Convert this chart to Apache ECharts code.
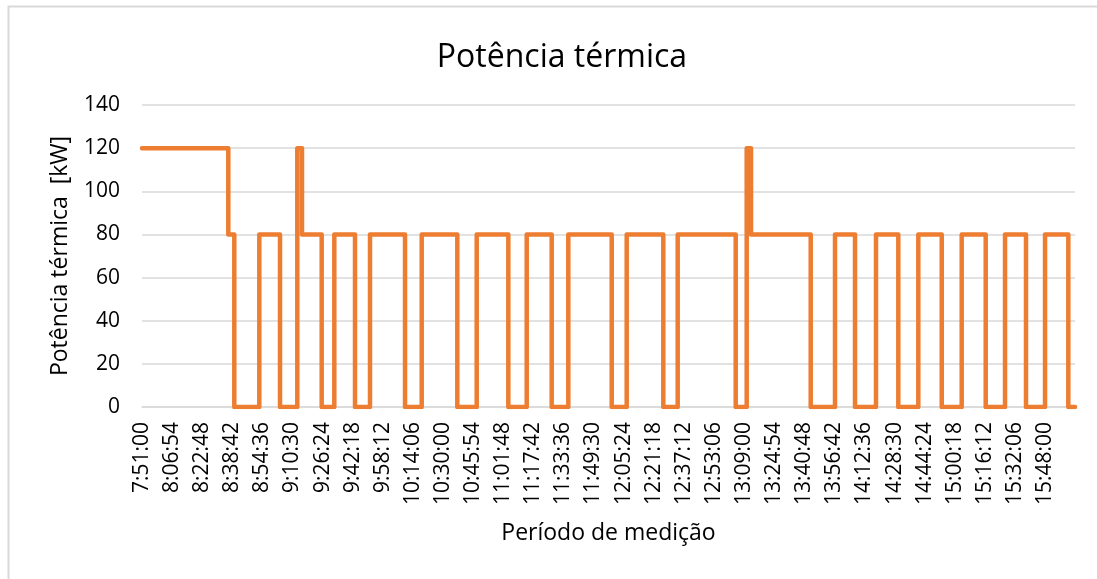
<!DOCTYPE html>
<html>
<head>
<meta charset="utf-8">
<script src="https://cdn.jsdelivr.net/npm/echarts@6/dist/echarts.min.js"></script>
<style>
  html, body { margin: 0; padding: 0; background: #fff; }
  #chart { width: 1097px; height: 579px; }
</style>
</head>
<body>
<div id="chart"></div>
<script>
// Measurement start and sampling window
const startTime = '7:51:00';
const endTime = '16:03:50';

// Instants where the thermal power changes, and the level held from each instant on (kW)
const changeTimes = [
  '7:51:00', '8:36:35', '8:39:45', '8:52:58', '9:03:54', '9:13:02', '9:15:31', '9:25:55',
  '9:32:35', '9:43:31', '9:51:26', '10:09:56', '10:18:45', '10:37:33', '10:47:48', '11:04:30',
  '11:14:13', '11:27:25', '11:36:11', '11:59:07', '12:07:02', '12:26:22', '12:33:58', '13:04:37',
  '13:10:25', '13:12:42', '13:44:14', '13:57:04', '14:07:38', '14:18:43', '14:30:30', '14:41:04',
  '14:53:26', '15:03:59', '15:16:40', '15:26:52', '15:37:57', '15:48:00', '16:00:18'
];
const powerKW = [
  120, 80, 0, 80, 0, 120, 80, 0,
  80, 0, 80, 0, 80, 0, 80, 0,
  80, 0, 80, 0, 80, 0, 80, 0,
  120, 80, 0, 80, 0, 80, 0, 80,
  0, 80, 0, 80, 0, 80, 0
];

// Time-axis labels, one every 15:54
const tickLabels = [
  '7:51:00', '8:06:54', '8:22:48', '8:38:42', '8:54:36', '9:10:30', '9:26:24', '9:42:18',
  '9:58:12', '10:14:06', '10:30:00', '10:45:54', '11:01:48', '11:17:42', '11:33:36', '11:49:30',
  '12:05:24', '12:21:18', '12:37:12', '12:53:06', '13:09:00', '13:24:54', '13:40:48', '13:56:42',
  '14:12:36', '14:28:30', '14:44:24', '15:00:18', '15:16:12', '15:32:06', '15:48:00'
];
const labelStep = 954; // seconds between labels

function toSeconds(hms) {
  const p = hms.split(':').map(Number);
  return p[0] * 3600 + p[1] * 60 + p[2];
}
const t0 = toSeconds(startTime);
const elapsed = (hms) => toSeconds(hms) - t0;

const seriesData = changeTimes.map((t, i) => [elapsed(t), powerKW[i]]);
seriesData.push([elapsed(endTime), powerKW[powerKW.length - 1]]);

const FONT = 'Open Sans';
const chart = echarts.init(document.getElementById('chart'), null, { renderer: 'canvas' });

chart.setOption({
  animation: false,
  backgroundColor: '#ffffff',
  title: {
    text: 'Potência térmica',
    left: 557,
    top: 37,
    textAlign: 'center',
    textStyle: { fontFamily: FONT, fontSize: 32, fontWeight: 'normal', color: '#000' }
  },
  graphic: [{
    type: 'rect',
    silent: true,
    z: -1,
    shape: { x: 8.5, y: 6.5, width: 1200, height: 1200 },
    style: { fill: 'none', stroke: '#d9d9d9', lineWidth: 2 }
  }],
  grid: { left: 142, right: 22, top: 105, bottom: 172, containLabel: false },
  xAxis: {
    type: 'value',
    min: 0,
    max: elapsed(endTime),
    interval: labelStep,
    name: 'Período de medição',
    nameLocation: 'middle',
    nameGap: 115,
    nameTextStyle: { fontFamily: FONT, fontSize: 23, color: '#000' },
    axisLine: { show: true, lineStyle: { color: '#d9d9d9', width: 1.5 } },
    axisTick: { show: false },
    splitLine: { show: false },
    axisLabel: {
      rotate: 90,
      margin: 15,
      showMaxLabel: false,
      fontFamily: FONT,
      fontSize: 21,
      color: '#000',
      formatter: (v) => {
        const k = Math.round(v / labelStep);
        return Math.abs(k * labelStep - v) < 1e-6 && tickLabels[k] ? tickLabels[k] : '';
      }
    }
  },
  yAxis: {
    type: 'value',
    min: 0,
    max: 140,
    interval: 20,
    name: 'Potência térmica  [kW]',
    nameLocation: 'middle',
    nameGap: 70,
    nameTextStyle: { fontFamily: FONT, fontSize: 23, color: '#000' },
    axisLine: { show: false },
    axisTick: { show: false },
    axisLabel: { margin: 22, fontFamily: FONT, fontSize: 21, color: '#000' },
    splitLine: { show: true, lineStyle: { color: '#d9d9d9', width: 1.5 } }
  },
  series: [{
    type: 'line',
    step: 'end',
    data: seriesData,
    showSymbol: false,
    symbol: 'none',
    lineStyle: { color: '#ED7D31', width: 4.5, cap: 'round', join: 'round' },
    itemStyle: { color: '#ED7D31' }
  }]
});
</script>
</body>
</html>
